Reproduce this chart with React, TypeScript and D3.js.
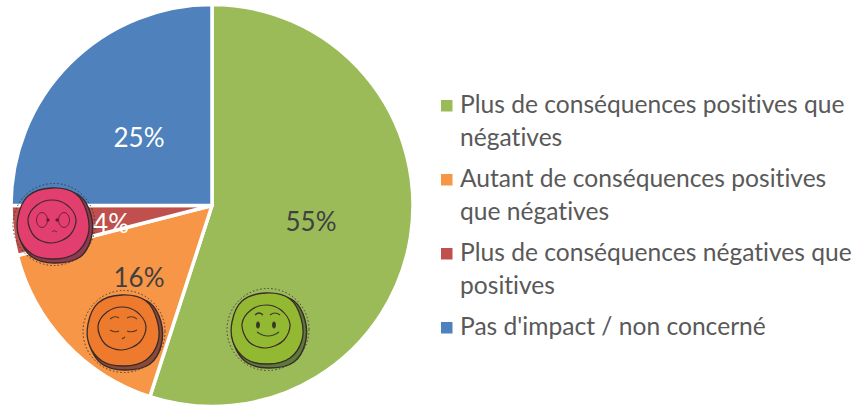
import React from "react";
import * as d3 from "d3";

const categories = ["Plus de conséquences positives que négatives", "Autant de conséquences positives que négatives", "Plus de conséquences négatives que positives", "Pas d'impact / non concerné"];
const values = [55, 16, 4, 25];
const colors = ["#9BBB59", "#F79646", "#C0504D", "#4F81BD"];
const legendLines = [
  ["Plus de conséquences positives que", "négatives"],
  ["Autant de conséquences positives", "que négatives"],
  ["Plus de conséquences négatives que", "positives"],
  ["Pas d'impact / non concerné"],
];
const labelColors = ["#404040", "#404040", "#ffffff", "#ffffff"];
const FONT = "Lato, 'Open Sans', sans-serif";
const cx = 212, cy = 205.5, R = 201;
const labelPos = [[311, 222], [139, 278], [111, 224], [139, 138]];
const legendY = [106, 180, 254, 328];
const lineGap = 32.5;

const blob = d3.line<[number, number]>().curve(d3.curveCatmullRomClosed);

function Face({ x, y, fill, dark, kind }: { x: number; y: number; fill: string; dark: string; kind: string }) {
  const outer: [number, number][] = [[-36, -8], [-26, -29], [-2, -37], [22, -31], [33, -12], [34, 10], [22, 28], [0, 34], [-22, 29], [-35, 12]];
  const rim: [number, number][] = [[-35, -6], [-25, -27], [0, -36], [26, -29], [37, -10], [37, 14], [26, 32], [0, 38], [-22, 32], [-34, 14]];
  const inner: [number, number][] = [[-24, -6], [-15, -20], [0, -25], [15, -20], [24, -6], [18, 10], [0, 18], [-17, 12]];
  return (
    <g transform={`translate(${x},${y})`}>
      <circle r={41} cy={-0.5} fill="none" stroke="#333" strokeWidth={0.9} strokeDasharray="1.5 2.2" />
      <path d={blob(rim)!} fill={dark} stroke="#3a2a2a" strokeWidth={1.4} />
      <path d={blob(outer)!} fill={fill} stroke="#3a2a2a" strokeWidth={1.3} />
      <g transform="translate(-2,0)">
        <path d={blob(inner)!} fill="none" stroke="#3a2a2a" strokeWidth={1.2} />
        {kind === "happy" && (
          <g fill="none" stroke="#3a3a2a" strokeWidth={1.2}>
            <ellipse cx={-8} cy={-5} rx={1.3} ry={3} fill="#333" />
            <ellipse cx={8} cy={-5} rx={1.3} ry={3} fill="#333" />
            <path d="M-9 2 Q2 10 13 2" />
            <path d="M-11 -15 Q-7 -19 -3 -15" />
            <path d="M4 -15 Q9 -19 14 -15" />
          </g>
        )}
        {kind === "neutral" && (
          <g fill="none" stroke="#5a3a20" strokeWidth={1.1}>
            <path d="M-12 -2 Q-7 1 -3 -1" />
            <path d="M5 -1 Q10 1 15 -2" />
            <path d="M-12 -13 Q-7 -17 -3 -14" />
            <path d="M5 -14 Q10 -17 15 -13" />
            <path d="M0 7 L3 5" />
          </g>
        )}
        {kind === "sad" && (
          <g fill="none" stroke="#6a1a38" strokeWidth={0.9}>
            <ellipse cx={-10} cy={-5} rx={5.5} ry={7.5} />
            <ellipse cx={12} cy={-5} rx={5.5} ry={7.5} />
            <circle cx={-4} cy={-5} r={1.2} fill="#5a1a30" />
            <circle cx={5} cy={-5} r={1.2} fill="#5a1a30" />
            <path d="M0 7 Q2 4 5 7" />
          </g>
        )}
      </g>
    </g>
  );
}

export default function App() {
  const pie = d3.pie<number>().sort(null).value((d) => d);
  const arc = d3.arc<d3.PieArcDatum<number>>().innerRadius(0).outerRadius(R);
  const arcs = pie(values);
  return (
    <svg width={856} height={405} style={{ position: "fixed", left: 0, top: 0, background: "#fff", fontVariantLigatures: "none" }} fontFamily={FONT}>
      <g transform={`translate(${cx},${cy})`}>
        {arcs.map((a, i) => (
          <path key={categories[i]} d={arc(a)!} fill={colors[i]} stroke="#fff" strokeWidth={3.5} strokeLinejoin="round" />
        ))}
      </g>
      {values.map((v, i) => (
        <text key={i} x={labelPos[i][0]} y={labelPos[i][1] + 9} textAnchor="middle" fontSize={26} fill={labelColors[i]}>
          {v}%
        </text>
      ))}
      <Face x={54} y={225} fill="#E23F6F" dark="#8E3A50" kind="sad" />
      <Face x={124} y={332} fill="#EE7A2E" dark="#8A4A38" kind="neutral" />
      <Face x={268} y={330} fill="#93B831" dark="#5C7A3A" kind="happy" />
      {legendLines.map((lines, i) => (
        <g key={i}>
          <rect x={441} y={legendY[i] - 6} width={11.5} height={11.5} fill={colors[i]} />
          {lines.map((l, j) => (
            <text key={j} x={460} y={legendY[i] + 7 + j * lineGap} fontSize={24.6} fill="#595959">
              {l}
            </text>
          ))}
        </g>
      ))}
    </svg>
  );
}
